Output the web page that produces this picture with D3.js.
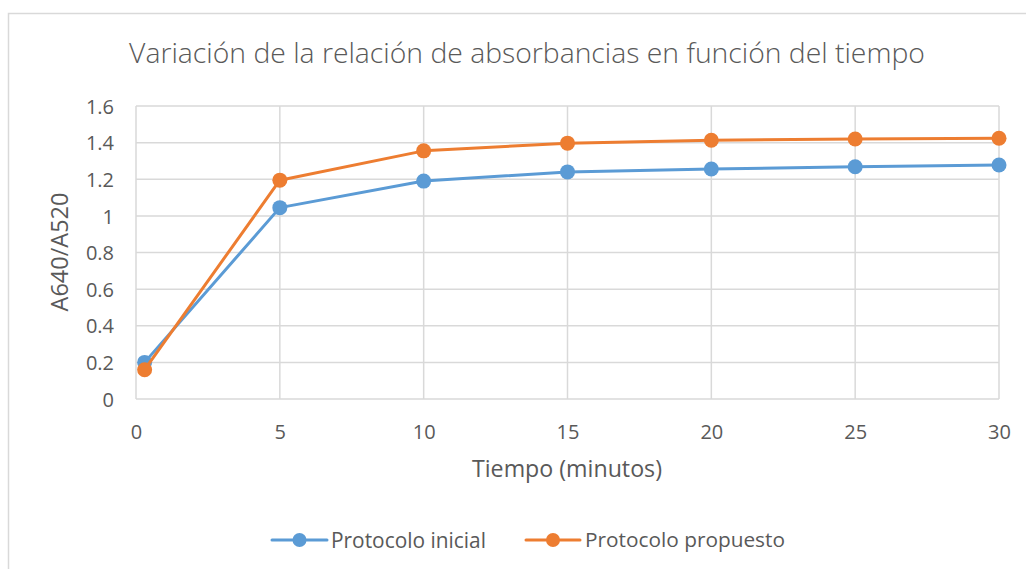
<!DOCTYPE html>
<html>
<head>
<meta charset="utf-8">
<script src="https://cdn.jsdelivr.net/npm/d3@7"></script>
<style>
  html, body { margin: 0; padding: 0; background: #fff; }
  svg { display: block; }
  text { font-family: "Open Sans", "Lato", sans-serif; fill: #595959; }
</style>
</head>
<body>
<svg id="chart" width="1026" height="569"></svg>
<script>
// ---- Data ----
const times = [0.3, 5, 10, 15, 20, 25, 30];
const protocoloInicial = [0.20, 1.045, 1.19, 1.24, 1.256, 1.268, 1.278];
const protocoloPropuesto = [0.16, 1.195, 1.355, 1.397, 1.413, 1.42, 1.424];
const seriesNames = ["Protocolo inicial", "Protocolo propuesto"];
const xTicks = [0, 5, 10, 15, 20, 25, 30];
const yTicks = [0, 0.2, 0.4, 0.6, 0.8, 1, 1.2, 1.4, 1.6];
const titleText = "Variación de la relación de absorbancias en función del tiempo";
const xTitle = "Tiempo (minutos)";
const yTitle = "A640/A520";

(function () {
const colors = ["#5B9BD5", "#ED7D31"];
const svg = d3.select("#chart");

// chart border
svg.append("rect").attr("x", 8.5).attr("y", 13.5).attr("width", 1030).attr("height", 570)
  .attr("fill", "#fff").attr("stroke", "#d9d9d9").attr("stroke-width", 1.5);

const pLeft = 136, pRight = 999, pTop = 106, pBottom = 399;
const x = d3.scaleLinear().domain([0, 30]).range([pLeft, pRight]);
const y = d3.scaleLinear().domain([0, 1.6]).range([pBottom, pTop]);

function fit(sel, width) {
  const node = sel.node();
  const fs = parseFloat(sel.attr("font-size"));
  const w = node.getComputedTextLength();
  if (w > 0) sel.attr("font-size", (fs * width / w).toFixed(2));
}

// grid
const grid = svg.append("g");
grid.selectAll("line.h").data(yTicks).join("line").attr("class", "h")
  .attr("x1", pLeft).attr("x2", pRight)
  .attr("y1", d => y(d)).attr("y2", d => y(d))
  .attr("stroke", "#d9d9d9").attr("stroke-width", 1.5);
grid.selectAll("line.v").data(xTicks).join("line").attr("class", "v")
  .attr("y1", pTop).attr("y2", pBottom)
  .attr("x1", d => x(d)).attr("x2", d => x(d))
  .attr("stroke", "#d9d9d9").attr("stroke-width", 1.5);

// axes via d3 axis (labels only)
const yAxis = svg.append("g").attr("transform", `translate(${pLeft - 22},0)`)
  .call(d3.axisLeft(y).tickValues(yTicks).tickSize(0).tickPadding(0).tickFormat(d3.format("~g")));
yAxis.select(".domain").remove();
yAxis.selectAll("text").attr("font-size", 20).attr("fill", "#595959")
  .attr("font-family", "\"Open Sans\", sans-serif").attr("dy", "0.36em");

const xAxis = svg.append("g").attr("transform", `translate(0,${pBottom + 26})`)
  .call(d3.axisBottom(x).tickValues(xTicks).tickSize(0).tickPadding(0).tickFormat(d3.format("~g")));
xAxis.select(".domain").remove();
xAxis.selectAll("text").attr("font-size", 20).attr("fill", "#595959")
  .attr("font-family", "\"Open Sans\", sans-serif").attr("dy", "0.71em");

// titles
const t = svg.append("text").attr("x", 527).attr("y", 63).attr("text-anchor", "middle")
  .attr("font-size", 27).attr("font-weight", 300).text(titleText);
fit(t, 796);

const xt = svg.append("text").attr("x", 567).attr("y", 477).attr("text-anchor", "middle")
  .attr("font-size", 21).text(xTitle);
fit(xt, 190);

const yt = svg.append("text").attr("transform", `translate(68,252) rotate(-90)`)
  .attr("text-anchor", "middle").attr("font-size", 21).text(yTitle);
fit(yt, 119);

// series
const allSeries = [protocoloInicial, protocoloPropuesto];
const line = d3.line().x(d => x(d[0])).y(d => y(d[1]));
allSeries.forEach((vals, i) => {
  const pts = times.map((tt, j) => [tt, vals[j]]);
  const g = svg.append("g");
  g.append("path").datum(pts).attr("d", line).attr("fill", "none")
    .attr("stroke", colors[i]).attr("stroke-width", 3).attr("stroke-linejoin", "round");
  g.selectAll("circle").data(pts).join("circle")
    .attr("cx", d => x(d[0])).attr("cy", d => y(d[1])).attr("r", 7.5)
    .attr("fill", colors[i]);
});

// legend
const legendItems = [
  { x0: 272, x1: 327, tx: 331, tw: 155 },
  { x0: 526, x1: 580, tx: 585, tw: 200 }
];
seriesNames.forEach((name, i) => {
  const L = legendItems[i];
  const ly = 540;
  svg.append("line").attr("x1", L.x0).attr("x2", L.x1).attr("y1", ly).attr("y2", ly)
    .attr("stroke", colors[i]).attr("stroke-width", 3).attr("stroke-linecap", "round");
  svg.append("circle").attr("cx", (L.x0 + L.x1) / 2).attr("cy", ly).attr("r", 7)
    .attr("fill", colors[i]);
  const lt = svg.append("text").attr("x", L.tx).attr("y", ly).attr("dy", "0.36em")
    .attr("font-size", 18).text(name);
  fit(lt, L.tw);
});
})();
</script>
</body>
</html>
